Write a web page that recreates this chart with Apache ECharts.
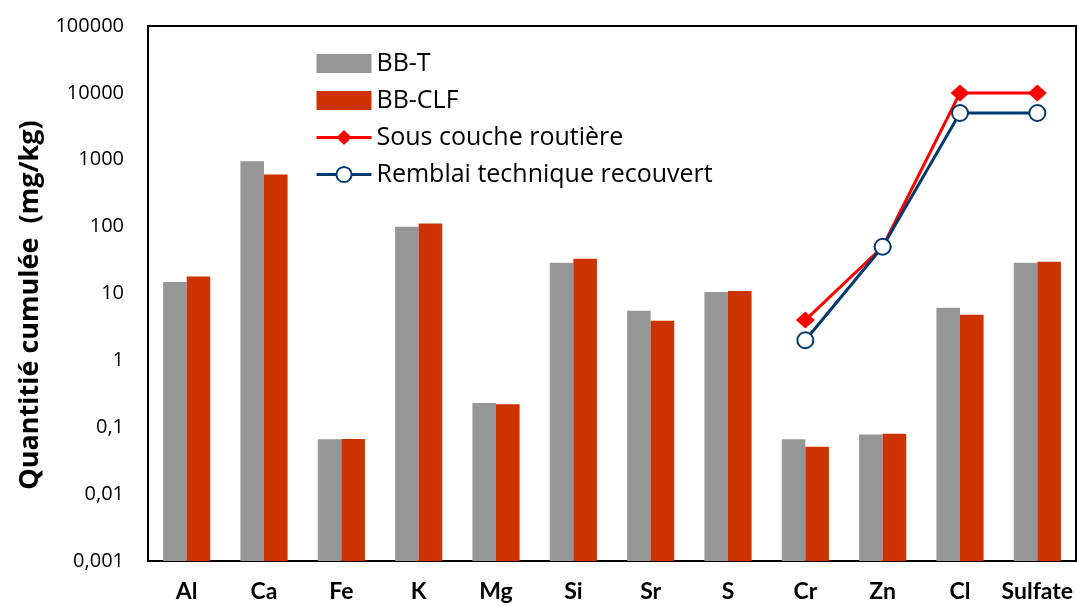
<!DOCTYPE html>
<html>
<head>
<meta charset="utf-8">
<script src="https://cdn.jsdelivr.net/npm/echarts@6/dist/echarts.min.js"></script>
<style>
  html, body { margin: 0; padding: 0; background: #fff; }
  #chart { width: 1077px; height: 606px; }
</style>
</head>
<body>
<div id="chart"></div>
<script>
// Cumulative leached quantity per element (mg/kg), log scale
const categories = ['Al', 'Ca', 'Fe', 'K', 'Mg', 'Si', 'Sr', 'S', 'Cr', 'Zn', 'Cl', 'Sulfate'];
const bbT   = [14.9, 946, 0.066, 100, 0.23, 28.8, 5.5, 10.5, 0.066, 0.078, 6.1, 28.8];
const bbCLF = [18, 604, 0.067, 111, 0.22, 33, 3.9, 10.9, 0.051, 0.08, 4.8, 29.8];
// Regulatory limit values, only defined for the last four parameters
const sousCouche = [null, null, null, null, null, null, null, null, 4, 50, 10000, 10000];
const remblai    = [null, null, null, null, null, null, null, null, 2, 50, 5000, 5000];
const yTickLabels = ['0,001', '0,01', '0,1', '1', '10', '100', '1000', '10000', '100000'];
const yTitle = 'Quantitié cumulée  (mg/kg)';

const FONT = '"Open Sans", Lato, sans-serif';
const FONT_X = 'Lato, "Open Sans", sans-serif';

const chart = echarts.init(document.getElementById('chart'), null, { renderer: 'canvas' });
chart.setOption({
  animation: false,
  backgroundColor: '#fff',
  textStyle: { fontFamily: FONT, color: '#000' },
  grid: {
    left: 148, right: 1, top: 26, bottom: 45,
    show: true, borderColor: '#000', borderWidth: 2
  },
  graphic: [{
    type: 'text',
    x: 30, y: 305,
    rotation: Math.PI / 2,
    style: {
      text: yTitle,
      font: 'bold 27px "Open Sans", sans-serif',
      fill: '#000',
      align: 'center',
      verticalAlign: 'middle'
    }
  }],
  legend: {
    orient: 'vertical',
    left: 310, top: 46,
    itemWidth: 55, itemHeight: 19, itemGap: 12,
    textStyle: { fontFamily: FONT, fontSize: 25, color: '#000' },
    data: [
      { name: 'BB-T', icon: 'rect' },
      { name: 'BB-CLF', icon: 'rect' },
      { name: 'Sous couche routière', lineStyle: { width: 3 } },
      { name: 'Remblai technique recouvert', lineStyle: { width: 3 }, itemStyle: { borderWidth: 3 } }
    ]
  },
  xAxis: {
    type: 'category',
    data: categories,
    axisLine: { show: true, lineStyle: { color: '#000', width: 2 } },
    axisTick: { show: false },
    axisLabel: { interval: 0, fontFamily: FONT_X, fontSize: 23, fontWeight: 'bold', color: '#000', margin: 19 },
    splitLine: { show: false }
  },
  yAxis: {
    type: 'log',
    logBase: 10,
    min: 0.001,
    max: 100000,
    startValue: 0.001,
    axisLine: { show: true, lineStyle: { color: '#000', width: 2 } },
    axisTick: { show: false },
    splitLine: { show: false },
    axisLabel: {
      fontFamily: FONT, fontSize: 20, color: '#000', margin: 24,
      formatter: v => yTickLabels[Math.round(Math.log10(v)) + 3]
    }
  },
  series: [
    {
      name: 'BB-T', type: 'bar', data: bbT,
      barGap: '0%', barCategoryGap: '39%',
      itemStyle: { color: '#969696' }
    },
    {
      name: 'BB-CLF', type: 'bar', data: bbCLF,
      barGap: '0%', barCategoryGap: '39%',
      itemStyle: { color: '#CC3300' }
    },
    {
      name: 'Sous couche routière', type: 'line', data: sousCouche,
      symbol: 'diamond', symbolSize: [19, 17], showAllSymbol: true,
      lineStyle: { color: '#FF0000', width: 3 },
      itemStyle: { color: '#FF0000' },
      z: 3
    },
    {
      name: 'Remblai technique recouvert', type: 'line', data: remblai,
      symbol: 'emptyCircle', symbolSize: 16, showAllSymbol: true,
      lineStyle: { color: '#003A70', width: 3 },
      itemStyle: { color: '#003A70', borderColor: '#003A70', borderWidth: 3 },
      z: 4
    }
  ]
});
</script>
</body>
</html>
